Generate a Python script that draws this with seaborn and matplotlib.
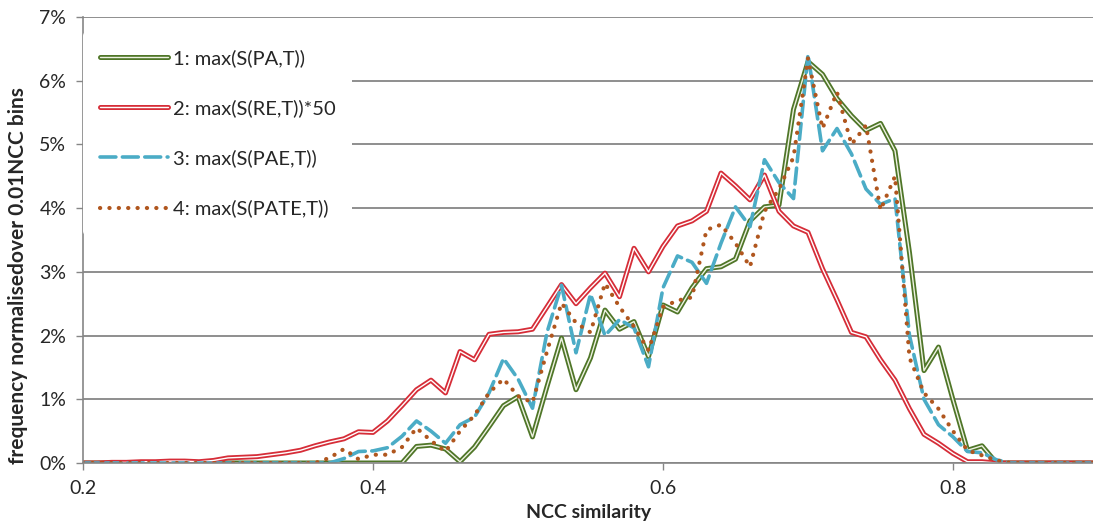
import numpy as np
import pandas as pd
import seaborn as sns
import matplotlib.pyplot as plt
import matplotlib.patheffects as pe

# NCC bins (0.01 wide) and frequency in % for each series
ncc = np.round(np.arange(0.20, 0.905, 0.01), 2)

pa = [0.0] * 22 + [
    0.00, 0.26, 0.28, 0.22, 0.02, 0.25, 0.57, 0.90, 1.04, 0.41,
    1.20, 1.96, 1.15, 1.65, 2.40, 2.10, 2.22, 1.67, 2.48, 2.37,
    2.75, 3.05, 3.08, 3.20, 3.80, 4.02, 4.05, 5.55, 6.30, 6.10,
    5.72, 5.45, 5.22, 5.33, 4.90, 3.30, 1.45, 1.82, 0.99, 0.20,
    0.27, 0.00] + [0.0] * 7

re50 = [
    0.00, 0.00, 0.01, 0.01, 0.02, 0.02, 0.03, 0.03, 0.02, 0.04,
    0.08, 0.09, 0.10, 0.13, 0.16, 0.20, 0.27, 0.33, 0.38, 0.49,
    0.48, 0.66, 0.90, 1.15, 1.30, 1.10, 1.75, 1.62, 2.02, 2.05,
    2.06, 2.10, 2.45, 2.80, 2.50, 2.75, 2.98, 2.61, 3.37, 3.00,
    3.40, 3.72, 3.80, 3.95, 4.55, 4.35, 4.13, 4.52, 3.95, 3.72,
    3.62, 3.05, 2.56, 2.05, 1.98, 1.62, 1.30, 0.85, 0.45, 0.31,
    0.15, 0.02, 0.02, 0.00] + [0.0] * 7

pae = [0.0] * 18 + [
    0.07, 0.18, 0.19, 0.24, 0.42, 0.66, 0.50, 0.31, 0.60, 0.72,
    1.10, 1.64, 1.32, 0.86, 2.05, 2.79, 1.73, 2.65, 2.00, 2.25,
    2.12, 1.51, 2.75, 3.25, 3.15, 2.82, 3.45, 4.02, 3.71, 4.76,
    4.40, 4.15, 6.41, 4.90, 5.25, 4.85, 4.30, 4.06, 4.15, 2.00,
    1.00, 0.60, 0.41, 0.18, 0.16, 0.05] + [0.0] * 7

pate = [0.0] * 17 + [
    0.08, 0.22, 0.06, 0.13, 0.13, 0.25, 0.55, 0.35, 0.18, 0.50,
    0.75, 1.10, 1.32, 1.05, 0.95, 1.75, 2.51, 2.20, 2.05, 2.82,
    2.45, 2.14, 1.77, 2.45, 2.55, 2.60, 3.66, 3.74, 3.45, 3.08,
    3.95, 4.30, 4.80, 6.35, 5.25, 5.82, 5.00, 5.30, 3.97, 4.50,
    1.65, 1.10, 0.85, 0.50, 0.20, 0.12, 0.04] + [0.0] * 7

labels = ["1: max(S(PA,T))", "2: max(S(RE,T))*50",
          "3: max(S(PAE,T))", "4: max(S(PATE,T))"]
xticks = [0.2, 0.4, 0.6, 0.8]
xticklabels = ["0.2", "0.4", "0.6", "0.8"]
yticks = [0, 1, 2, 3, 4, 5, 6, 7]

df = pd.DataFrame({"ncc": ncc, labels[0]: pa, labels[1]: re50,
                   labels[2]: pae, labels[3]: pate})

sns.set_style("white")
plt.rcParams["font.family"] = ["Lato", "DejaVu Sans"]

fig = plt.figure(figsize=(10.93, 5.22), dpi=100)
ax = fig.add_axes([83 / 1093, 59 / 522, 1015 / 1093, 446 / 522])

grey = "#868686"
txt = "#262626"

# series 1 and 2 are "double" lines: coloured stroke with a light core
sns.lineplot(data=df, x="ncc", y=labels[0], ax=ax, color="#eef2e2", lw=1.0,
             label=labels[0],
             path_effects=[pe.Stroke(linewidth=3.6, foreground="#4f7628"), pe.Normal()])
sns.lineplot(data=df, x="ncc", y=labels[1], ax=ax, color="white", lw=1.0,
             label=labels[1],
             path_effects=[pe.Stroke(linewidth=3.6, foreground="#d62d38"), pe.Normal()])
sns.lineplot(data=df, x="ncc", y=labels[2], ax=ax, color="#4bacc6", lw=2.6,
             ls=(0, (4.4, 1.8)), dash_capstyle="round", label=labels[2])
sns.lineplot(data=df, x="ncc", y=labels[3], ax=ax, color="#b0561e", lw=3.0,
             ls=(0, (0.05, 2.2)), dash_capstyle="round", label=labels[3])

ax.set_xlim(0.2, 0.9)
ax.set_ylim(0, 7)
ax.set_xticks(xticks)
ax.set_xticklabels(xticklabels)
ax.set_yticks(yticks)
ax.set_yticklabels([f"{v}%" for v in yticks])
ax.yaxis.grid(True, color=grey, lw=1.3)
ax.xaxis.grid(False)
ax.set_axisbelow(True)

sns.despine(ax=ax)
for side in ["left", "bottom"]:
    ax.spines[side].set_color(grey)
    ax.spines[side].set_linewidth(1.2)

ax.tick_params(axis="both", which="major", bottom=True, left=True,
               direction="out", length=5, width=1, color=grey,
               labelsize=14, labelcolor=txt, pad=7)

ax.set_xlabel("NCC similarity", fontsize=14, fontweight="bold", color=txt)
ax.set_ylabel("frequency normalisedover 0.01NCC bins", fontsize=15,
              fontweight="bold", color=txt)
ax.xaxis.set_label_coords(0.4985, -0.092)
ax.yaxis.set_label_coords(-0.054, 0.42)

leg = ax.legend(loc="upper left", bbox_to_anchor=(0.0, 0.966), borderaxespad=0,
                frameon=True, framealpha=1, facecolor="white", edgecolor="none",
                fontsize=14.5, handlelength=3.35, handletextpad=0.25,
                labelspacing=1.6, borderpad=0.85)
for t in leg.get_texts():
    t.set_color(txt)

fig.savefig("out.png", dpi=100)
